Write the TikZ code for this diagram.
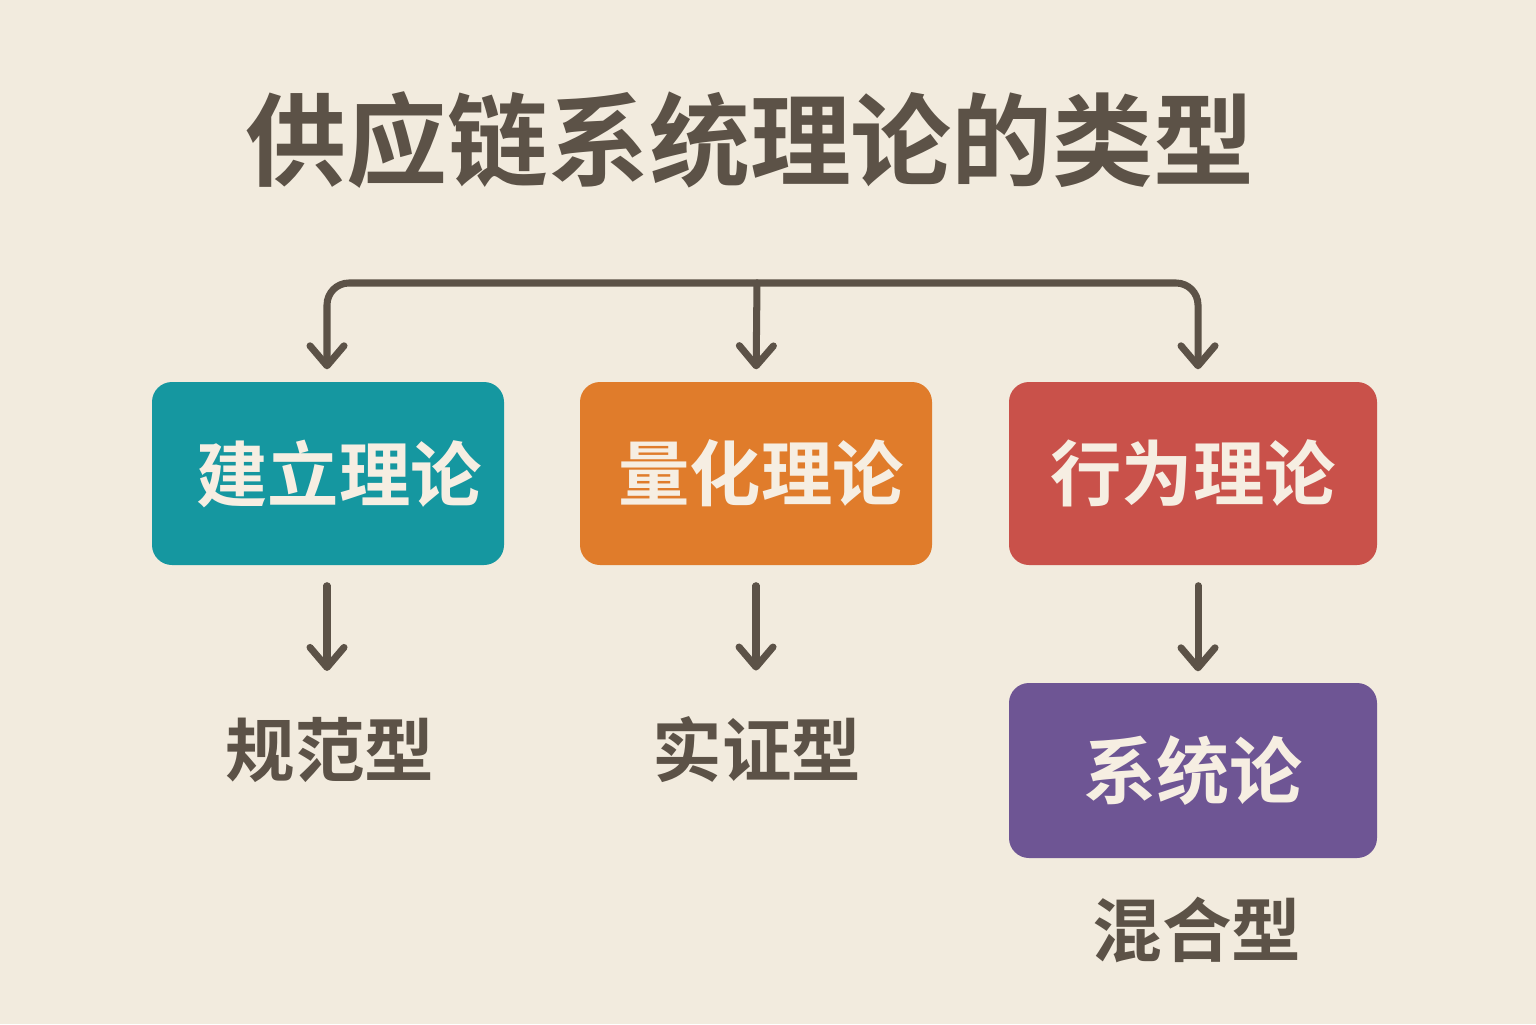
\documentclass[tikz,border=0pt]{standalone}
\usepackage{fontspec}
\newfontfamily\cjk{Noto Sans CJK SC}[BoldFont={Noto Sans CJK SC Bold}]
\usetikzlibrary{arrows.meta, positioning}

\definecolor{bgcream}{HTML}{F2EBDE}
\definecolor{inkbrown}{HTML}{5C5247}
\definecolor{tealbox}{HTML}{1597A0}
\definecolor{orangebox}{HTML}{E07C2B}
\definecolor{redbox}{HTML}{C9514A}
\definecolor{purplebox}{HTML}{6E5594}
\definecolor{boxtext}{HTML}{F6EEE2}

\begin{document}
\begin{tikzpicture}[x=1cm, y=1cm,
                    theory/.style={rectangle, rounded corners=0.2cm, minimum width=3.52cm,
                                   minimum height=1.83cm, text=boxtext,
                                   font=\cjk\bfseries\fontsize{20.3}{24}\selectfont},
                    kind/.style={text=inkbrown, font=\cjk\bfseries\fontsize{19.8}{24}\selectfont},
                    arr/.style={draw=inkbrown, line width=2pt, line cap=round,
                                -{Straight Barb[length=2mm, width=3.4mm, line join=round, line cap=round]}}]

% background
\useasboundingbox[fill=bgcream] (0,0) rectangle (15.36,10.24);

% Title
\node (title) [text=inkbrown, font=\cjk\bfseries\fontsize{28.7}{32}\selectfont] at (7.50,8.84) {供应链系统理论的类型};

% Boxes
\node (build) [theory, fill=tealbox] at (3.28,5.505) {\hspace{0.22cm}建立理论};
\node (quant) [theory, fill=orangebox] at (7.56,5.505) {\hspace{0.1cm}量化理论};
\node (behav) [theory, fill=redbox, minimum width=3.68cm] at (11.93,5.505) {行为理论};
\node (syst) [theory, fill=purplebox, minimum width=3.68cm, minimum height=1.75cm,
              font=\cjk\bfseries\fontsize{20.8}{24}\selectfont] at (11.93,2.535) {系统论};

% Labels
\node (norm) [kind] at (3.30,2.74) {规范型};
\node (empi) [kind] at (7.57,2.74) {实证型};
\node (mixed) [kind] at (11.97,0.94) {混合型};

% Edges
\coordinate (split) at (7.57,7.41);
\draw[arr, rounded corners=0.22cm, shorten >=0.12cm] (split) -| ([xshift=-0.01cm]build.north);
\draw[arr, rounded corners=0.22cm, shorten >=0.12cm] (split) -| ([xshift=0.05cm]behav.north);
\draw[arr, shorten >=0.12cm] (split) -- (quant.north);
\draw[arr, shorten <=0.2cm, shorten >=0.34cm] ([xshift=-0.01cm]build.south) -- ([xshift=-0.01cm]build.south |- norm.north);
\draw[arr, shorten <=0.2cm, shorten >=0.34cm] (quant.south) -- (quant.south |- empi.north);
\draw[arr, shorten <=0.2cm, shorten >=0.11cm] ([xshift=0.05cm]behav.south) -- ([xshift=0.05cm]syst.north);

\end{tikzpicture}
\end{document}
